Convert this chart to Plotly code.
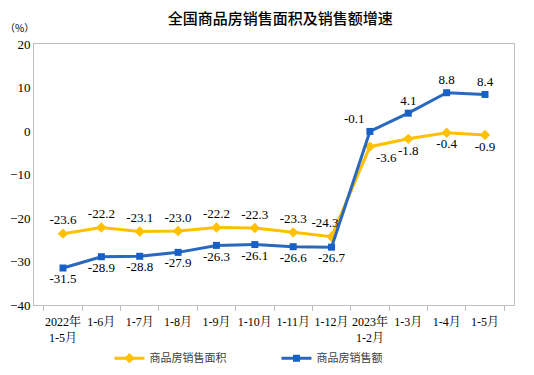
import plotly.graph_objects as go

categories = ["2022年<br>1-5月", "1-6月", "1-7月", "1-8月", "1-9月", "1-10月", "1-11月",
              "1-12月", "2023年<br>1-2月", "1-3月", "1-4月", "1-5月"]
area_growth = [-23.6, -22.2, -23.1, -23.0, -22.2, -22.3, -23.3, -24.3, -3.6, -1.8, -0.4, -0.9]
sales_growth = [-31.5, -28.9, -28.8, -27.9, -26.3, -26.1, -26.6, -26.7, -0.1, 4.1, 8.8, 8.4]
y_ticks = [20, 10, 0, -10, -20, -30, -40]

area_pos = ["top center"] * 8 + ["bottom right", "bottom center", "bottom center", "bottom center"]
sales_pos = ["bottom center"] * 8 + ["top left", "top center", "top center", "top center"]
# trailing figure spaces nudge a crowded label to the left
area_pad = [""] * 7 + ["\u2007\u2007"] + [""] * 4

serif = "Times New Roman, Liberation Serif, DejaVu Serif, serif"
serif_cjk = "Times New Roman, Liberation Serif, Noto Serif CJK SC, Noto Sans CJK SC, serif"

fig = go.Figure()
fig.add_trace(go.Scatter(
    x=categories, y=area_growth, name="商品房销售面积",
    mode="lines+markers+text",
    line=dict(color="#FFC000", width=3),
    marker=dict(symbol="diamond", size=8, color="#FFC000"),
    text=[f"{v:.1f}{p}" for v, p in zip(area_growth, area_pad)], textposition=area_pos,
    textfont=dict(family=serif, size=13, color="#000000"),
))
fig.add_trace(go.Scatter(
    x=categories, y=sales_growth, name="商品房销售额",
    mode="lines+markers+text",
    line=dict(color="#2869BE", width=3),
    marker=dict(symbol="square", size=7, color="#1660C8"),
    text=[f"{v:.1f}" for v in sales_growth], textposition=sales_pos,
    textfont=dict(family=serif, size=13, color="#000000"),
))

fig.update_layout(
    width=534, height=375,
    margin=dict(l=34, r=20, t=44, b=70, autoexpand=False),
    paper_bgcolor="white", plot_bgcolor="white",
    title=dict(text="全国商品房销售面积及销售额增速", x=0.525, xanchor="center",
               y=0.95, yanchor="middle",
               font=dict(family="Noto Sans CJK SC", size=15, color="#000000", weight=500)),
    font=dict(family=serif, size=11, color="#000000"),
    showlegend=True,
    legend=dict(orientation="h", xref="container", yref="container",
                x=0.205, y=0.045, xanchor="left", yanchor="middle",
                entrywidth=122, entrywidthmode="pixels",
                font=dict(family="Noto Sans CJK SC", size=11, color="#404040")),
    annotations=[dict(text="（%）", xref="paper", yref="paper", x=-0.03, y=1.065,
                      xanchor="center", yanchor="middle", showarrow=False,
                      font=dict(family="Noto Sans CJK SC", size=10, color="#000000"))],
)
fig.update_xaxes(type="category", showgrid=False, showline=True, linecolor="#BFBFBF",
                 linewidth=1, mirror=True, ticks="outside", tickson="boundaries",
                 ticklen=5, tickcolor="#BFBFBF", tickangle=0, automargin=False,
                 ticklabelstandoff=6,
                 tickfont=dict(family=serif_cjk, size=12, color="#000000"))
fig.update_yaxes(range=[-40, 20], tickvals=y_ticks, showgrid=False, zeroline=False,
                 showline=True, linecolor="#BFBFBF", linewidth=1, mirror=True,
                 ticks="", automargin=False,
                 tickfont=dict(family=serif, size=13, color="#000000"))

fig.write_html("out.html", config={"displayModeBar": False},
               post_script="document.body.style.margin='0px';document.body.style.padding='0px';")
